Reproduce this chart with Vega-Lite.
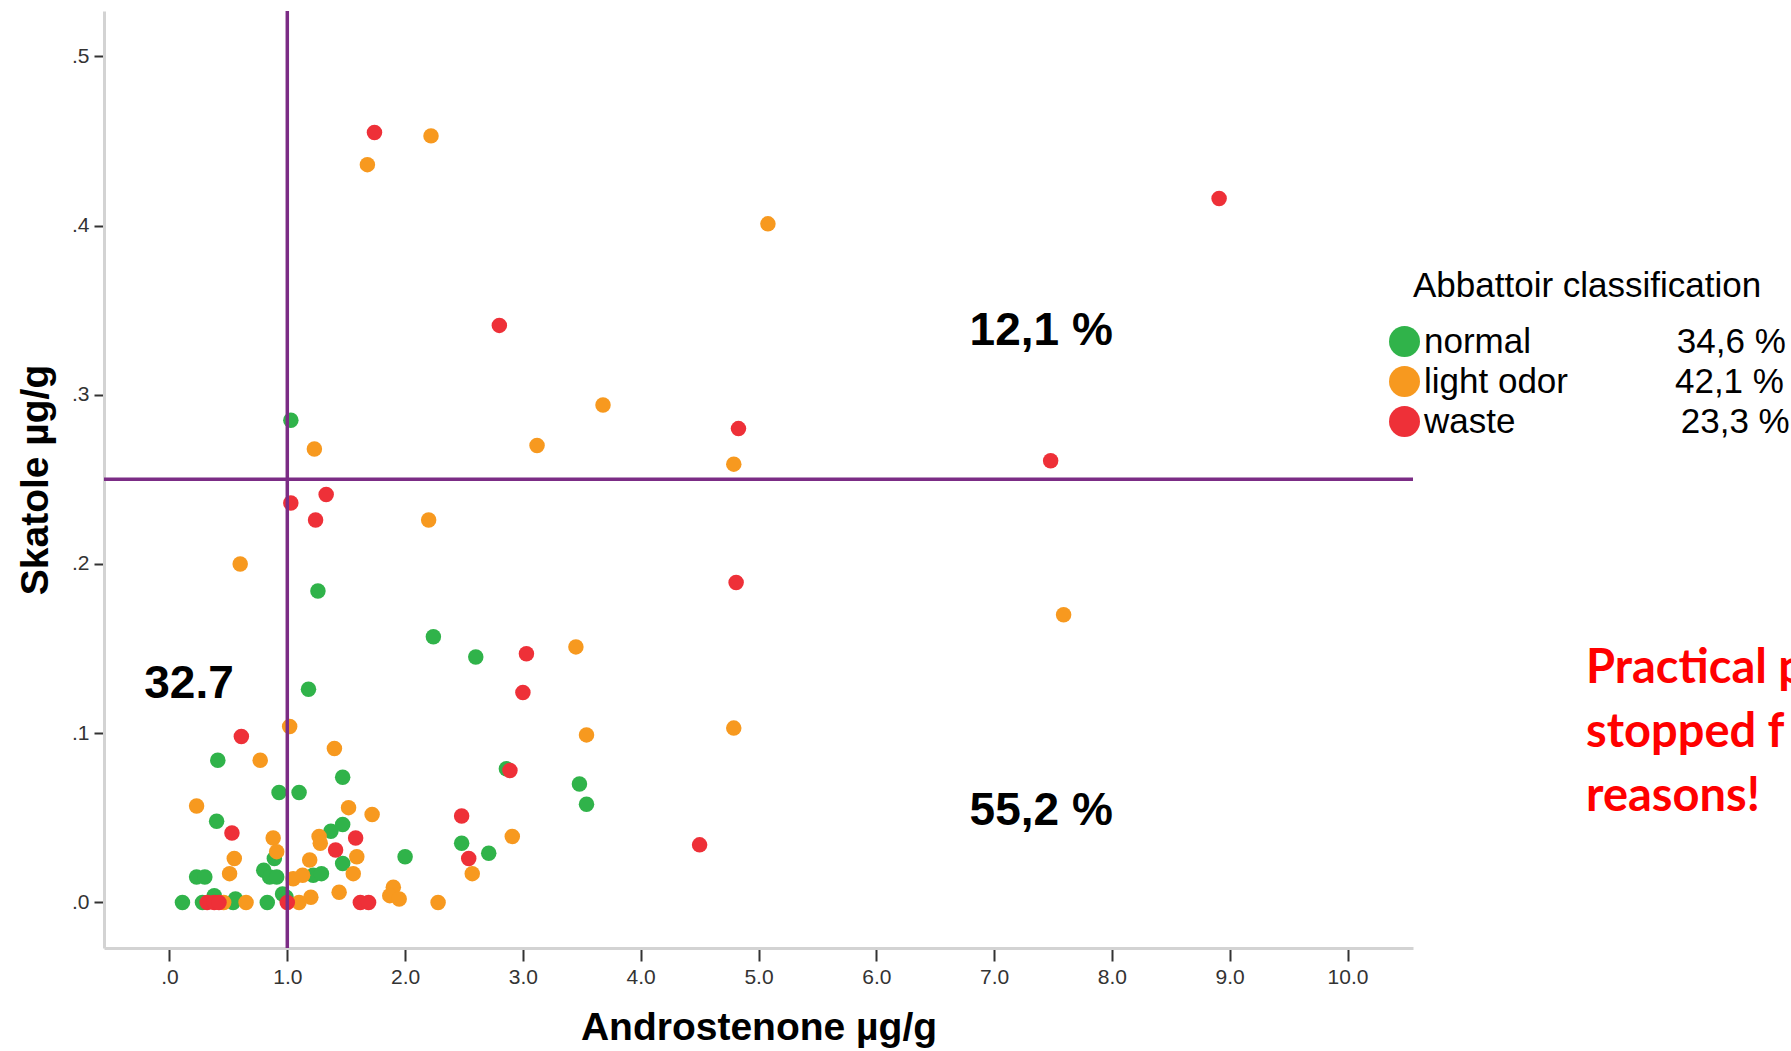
{
  "$schema": "https://vega.github.io/schema/vega-lite/v6.json",
  "width": 1309,
  "height": 937,
  "autosize": {"type": "none"},
  "padding": {"left": 104, "top": 11, "right": 378, "bottom": 103},
  "background": "white",
  "config": {
    "view": {"stroke": null},
    "font": "Liberation Sans",
    "axis": {
      "grid": false,
      "domainColor": "#d3d3d3",
      "domainWidth": 3,
      "tickColor": "#333333",
      "tickWidth": 2,
      "labelFont": "Liberation Sans",
      "labelFontSize": 21,
      "labelColor": "#333333",
      "titleFont": "Liberation Sans",
      "titleFontSize": 39,
      "titleFontWeight": "bold",
      "titleColor": "black"
    },
    "axisX": {"tickSize": 13, "labelPadding": 5, "titlePadding": 21},
    "axisY": {"tickSize": 10, "labelPadding": 5, "titlePadding": 16}
  },
  "datasets": {
    "samples": [
      {"Androstenone": 1.03, "Skatole": 0.285, "Classification": "normal"},
      {"Androstenone": 1.26, "Skatole": 0.184, "Classification": "normal"},
      {"Androstenone": 2.24, "Skatole": 0.157, "Classification": "normal"},
      {"Androstenone": 2.60, "Skatole": 0.145, "Classification": "normal"},
      {"Androstenone": 1.18, "Skatole": 0.126, "Classification": "normal"},
      {"Androstenone": 3.48, "Skatole": 0.070, "Classification": "normal"},
      {"Androstenone": 3.54, "Skatole": 0.058, "Classification": "normal"},
      {"Androstenone": 0.41, "Skatole": 0.084, "Classification": "normal"},
      {"Androstenone": 1.47, "Skatole": 0.074, "Classification": "normal"},
      {"Androstenone": 2.86, "Skatole": 0.079, "Classification": "normal"},
      {"Androstenone": 0.93, "Skatole": 0.065, "Classification": "normal"},
      {"Androstenone": 1.10, "Skatole": 0.065, "Classification": "normal"},
      {"Androstenone": 0.40, "Skatole": 0.048, "Classification": "normal"},
      {"Androstenone": 1.37, "Skatole": 0.042, "Classification": "normal"},
      {"Androstenone": 1.47, "Skatole": 0.046, "Classification": "normal"},
      {"Androstenone": 0.89, "Skatole": 0.026, "Classification": "normal"},
      {"Androstenone": 1.47, "Skatole": 0.023, "Classification": "normal"},
      {"Androstenone": 2.00, "Skatole": 0.027, "Classification": "normal"},
      {"Androstenone": 2.48, "Skatole": 0.035, "Classification": "normal"},
      {"Androstenone": 2.71, "Skatole": 0.029, "Classification": "normal"},
      {"Androstenone": 0.23, "Skatole": 0.015, "Classification": "normal"},
      {"Androstenone": 0.30, "Skatole": 0.015, "Classification": "normal"},
      {"Androstenone": 0.80, "Skatole": 0.019, "Classification": "normal"},
      {"Androstenone": 0.85, "Skatole": 0.015, "Classification": "normal"},
      {"Androstenone": 0.91, "Skatole": 0.015, "Classification": "normal"},
      {"Androstenone": 1.22, "Skatole": 0.016, "Classification": "normal"},
      {"Androstenone": 1.29, "Skatole": 0.017, "Classification": "normal"},
      {"Androstenone": 0.99, "Skatole": 0.003, "Classification": "normal"},
      {"Androstenone": 0.96, "Skatole": 0.005, "Classification": "normal"},
      {"Androstenone": 0.83, "Skatole": 0.000, "Classification": "normal"},
      {"Androstenone": 0.56, "Skatole": 0.002, "Classification": "normal"},
      {"Androstenone": 0.54, "Skatole": 0.000, "Classification": "normal"},
      {"Androstenone": 0.38, "Skatole": 0.004, "Classification": "normal"},
      {"Androstenone": 0.28, "Skatole": 0.000, "Classification": "normal"},
      {"Androstenone": 0.11, "Skatole": 0.000, "Classification": "normal"},
      {"Androstenone": 2.22, "Skatole": 0.453, "Classification": "light odor"},
      {"Androstenone": 1.68, "Skatole": 0.436, "Classification": "light odor"},
      {"Androstenone": 5.08, "Skatole": 0.401, "Classification": "light odor"},
      {"Androstenone": 3.68, "Skatole": 0.294, "Classification": "light odor"},
      {"Androstenone": 3.12, "Skatole": 0.270, "Classification": "light odor"},
      {"Androstenone": 1.23, "Skatole": 0.268, "Classification": "light odor"},
      {"Androstenone": 4.79, "Skatole": 0.259, "Classification": "light odor"},
      {"Androstenone": 2.20, "Skatole": 0.226, "Classification": "light odor"},
      {"Androstenone": 0.60, "Skatole": 0.200, "Classification": "light odor"},
      {"Androstenone": 7.59, "Skatole": 0.170, "Classification": "light odor"},
      {"Androstenone": 3.45, "Skatole": 0.151, "Classification": "light odor"},
      {"Androstenone": 3.54, "Skatole": 0.099, "Classification": "light odor"},
      {"Androstenone": 4.79, "Skatole": 0.103, "Classification": "light odor"},
      {"Androstenone": 1.02, "Skatole": 0.104, "Classification": "light odor"},
      {"Androstenone": 1.40, "Skatole": 0.091, "Classification": "light odor"},
      {"Androstenone": 0.77, "Skatole": 0.084, "Classification": "light odor"},
      {"Androstenone": 0.23, "Skatole": 0.057, "Classification": "light odor"},
      {"Androstenone": 1.52, "Skatole": 0.056, "Classification": "light odor"},
      {"Androstenone": 1.72, "Skatole": 0.052, "Classification": "light odor"},
      {"Androstenone": 0.88, "Skatole": 0.038, "Classification": "light odor"},
      {"Androstenone": 1.27, "Skatole": 0.039, "Classification": "light odor"},
      {"Androstenone": 1.28, "Skatole": 0.035, "Classification": "light odor"},
      {"Androstenone": 0.91, "Skatole": 0.030, "Classification": "light odor"},
      {"Androstenone": 0.55, "Skatole": 0.026, "Classification": "light odor"},
      {"Androstenone": 1.19, "Skatole": 0.025, "Classification": "light odor"},
      {"Androstenone": 1.59, "Skatole": 0.027, "Classification": "light odor"},
      {"Androstenone": 2.91, "Skatole": 0.039, "Classification": "light odor"},
      {"Androstenone": 2.57, "Skatole": 0.017, "Classification": "light odor"},
      {"Androstenone": 0.51, "Skatole": 0.017, "Classification": "light odor"},
      {"Androstenone": 1.05, "Skatole": 0.014, "Classification": "light odor"},
      {"Androstenone": 1.13, "Skatole": 0.016, "Classification": "light odor"},
      {"Androstenone": 1.56, "Skatole": 0.017, "Classification": "light odor"},
      {"Androstenone": 1.90, "Skatole": 0.009, "Classification": "light odor"},
      {"Androstenone": 1.87, "Skatole": 0.004, "Classification": "light odor"},
      {"Androstenone": 1.95, "Skatole": 0.002, "Classification": "light odor"},
      {"Androstenone": 1.44, "Skatole": 0.006, "Classification": "light odor"},
      {"Androstenone": 1.20, "Skatole": 0.003, "Classification": "light odor"},
      {"Androstenone": 2.28, "Skatole": 0.000, "Classification": "light odor"},
      {"Androstenone": 1.10, "Skatole": 0.000, "Classification": "light odor"},
      {"Androstenone": 0.65, "Skatole": 0.000, "Classification": "light odor"},
      {"Androstenone": 0.46, "Skatole": 0.000, "Classification": "light odor"},
      {"Androstenone": 1.74, "Skatole": 0.455, "Classification": "waste"},
      {"Androstenone": 8.91, "Skatole": 0.416, "Classification": "waste"},
      {"Androstenone": 2.80, "Skatole": 0.341, "Classification": "waste"},
      {"Androstenone": 4.83, "Skatole": 0.280, "Classification": "waste"},
      {"Androstenone": 7.48, "Skatole": 0.261, "Classification": "waste"},
      {"Androstenone": 1.03, "Skatole": 0.236, "Classification": "waste"},
      {"Androstenone": 1.33, "Skatole": 0.241, "Classification": "waste"},
      {"Androstenone": 1.24, "Skatole": 0.226, "Classification": "waste"},
      {"Androstenone": 4.81, "Skatole": 0.189, "Classification": "waste"},
      {"Androstenone": 3.03, "Skatole": 0.147, "Classification": "waste"},
      {"Androstenone": 3.00, "Skatole": 0.124, "Classification": "waste"},
      {"Androstenone": 4.50, "Skatole": 0.034, "Classification": "waste"},
      {"Androstenone": 0.61, "Skatole": 0.098, "Classification": "waste"},
      {"Androstenone": 2.89, "Skatole": 0.078, "Classification": "waste"},
      {"Androstenone": 2.48, "Skatole": 0.051, "Classification": "waste"},
      {"Androstenone": 0.53, "Skatole": 0.041, "Classification": "waste"},
      {"Androstenone": 1.58, "Skatole": 0.038, "Classification": "waste"},
      {"Androstenone": 1.41, "Skatole": 0.031, "Classification": "waste"},
      {"Androstenone": 2.54, "Skatole": 0.026, "Classification": "waste"},
      {"Androstenone": 1.62, "Skatole": 0.000, "Classification": "waste"},
      {"Androstenone": 1.69, "Skatole": 0.000, "Classification": "waste"},
      {"Androstenone": 1.00, "Skatole": 0.000, "Classification": "waste"},
      {"Androstenone": 0.32, "Skatole": 0.000, "Classification": "waste"},
      {"Androstenone": 0.38, "Skatole": 0.000, "Classification": "waste"},
      {"Androstenone": 0.42, "Skatole": 0.000, "Classification": "waste"}
    ],
    "quadrants": [
      {"Androstenone": 7.40, "Skatole": 0.3375, "label": "12,1 %"},
      {"Androstenone": 7.40, "Skatole": 0.054, "label": "55,2 %"},
      {"Androstenone": 0.166, "Skatole": 0.129, "label": "32.7"}
    ],
    "note": [
      {"Androstenone": 12.025, "Skatole": 0.1295, "label": ["Practical p", "stopped f", "reasons!"]}
    ],
    "vline": [{"Androstenone": 1.0}],
    "hline": [{"Skatole": 0.25}]
  },
  "layer": [
    {
      "data": {"name": "samples"},
      "mark": {"type": "circle", "size": 240, "opacity": 1},
      "encoding": {
        "x": {
          "field": "Androstenone", "type": "quantitative",
          "title": "Androstenone µg/g",
          "scale": {"domain": [-0.556, 10.556], "nice": false, "zero": false},
          "axis": {"values": [0, 1, 2, 3, 4, 5, 6, 7, 8, 9, 10], "labelExpr": "datum.value == 0 ? '.0' : format(datum.value, '.1f')"}
        },
        "y": {
          "field": "Skatole", "type": "quantitative",
          "title": "Skatole µg/g",
          "scale": {"domain": [-0.02695, 0.5268], "nice": false, "zero": false},
          "axis": {"values": [0, 0.1, 0.2, 0.3, 0.4, 0.5], "labelExpr": "replace(format(datum.value, '.1f'), '0.', '.')"}
        },
        "color": {
          "field": "Classification", "type": "nominal",
          "scale": {"domain": ["normal", "light odor", "waste"], "range": ["#30B34A", "#F7991F", "#EE3038"]},
          "legend": {
            "orient": "none",
            "legendX": 1309,
            "legendY": 258,
            "title": "Abbattoir classification",
            "titleFont": "Liberation Sans",
            "titleFontSize": 35,
            "titleFontWeight": "normal",
            "titleColor": "black",
            "titlePadding": 20,
            "titleLimit": 1000,
            "labelFont": "Liberation Sans",
            "labelFontSize": 35,
            "labelColor": "black",
            "labelLimit": 1000,
            "labelOffset": 2,
            "symbolOffset": -26,
            "symbolType": "circle",
            "symbolSize": 961,
            "symbolOpacity": 1,
            "symbolStrokeWidth": 0,
            "rowPadding": 4,
            "padding": 0,
            "labelExpr": "datum.label == 'normal' ? 'normal\u00a0\u00a0\u00a0\u00a0\u00a0\u00a0\u00a0\u00a0\u00a0\u00a0\u00a0\u00a0\u00a0\u00a0\u00a034,6 %' : datum.label == 'light odor' ? 'light odor\u00a0\u00a0\u00a0\u00a0\u00a0\u00a0\u00a0\u00a0\u00a0\u00a0\u00a042,1 %' : 'waste\u00a0\u00a0\u00a0\u00a0\u00a0\u00a0\u00a0\u00a0\u00a0\u00a0\u00a0\u00a0\u00a0\u00a0\u00a0\u00a0\u00a023,3 %'"
          }
        }
      }
    },
    {
      "data": {"name": "vline"},
      "mark": {"type": "rule", "color": "#7B2C85", "strokeWidth": 3.5},
      "encoding": {
        "x": {"field": "Androstenone", "type": "quantitative", "title": "Androstenone µg/g", "scale": {"domain": [-0.556, 10.556], "nice": false, "zero": false}}
      }
    },
    {
      "data": {"name": "hline"},
      "mark": {"type": "rule", "color": "#7B2C85", "strokeWidth": 3.5},
      "encoding": {
        "y": {"field": "Skatole", "type": "quantitative", "title": "Skatole µg/g", "scale": {"domain": [-0.02695, 0.5268], "nice": false, "zero": false}}
      }
    },
    {
      "data": {"name": "quadrants"},
      "mark": {"type": "text", "font": "Liberation Sans", "fontSize": 46, "fontWeight": "bold", "color": "black", "align": "center", "baseline": "middle"},
      "encoding": {
        "x": {"field": "Androstenone", "type": "quantitative", "title": "Androstenone µg/g", "scale": {"domain": [-0.556, 10.556], "nice": false, "zero": false}},
        "y": {"field": "Skatole", "type": "quantitative", "title": "Skatole µg/g", "scale": {"domain": [-0.02695, 0.5268], "nice": false, "zero": false}},
        "text": {"field": "label", "type": "nominal"}
      }
    },
    {
      "data": {"name": "note"},
      "mark": {"type": "text", "font": "Lato", "fontSize": 47, "fontWeight": "bold", "color": "#FF0000", "align": "left", "baseline": "alphabetic", "lineHeight": 64},
      "encoding": {
        "x": {"field": "Androstenone", "type": "quantitative", "title": "Androstenone µg/g", "scale": {"domain": [-0.556, 10.556], "nice": false, "zero": false}},
        "y": {"field": "Skatole", "type": "quantitative", "title": "Skatole µg/g", "scale": {"domain": [-0.02695, 0.5268], "nice": false, "zero": false}},
        "text": {"field": "label", "type": "nominal"}
      }
    }
  ]
}
